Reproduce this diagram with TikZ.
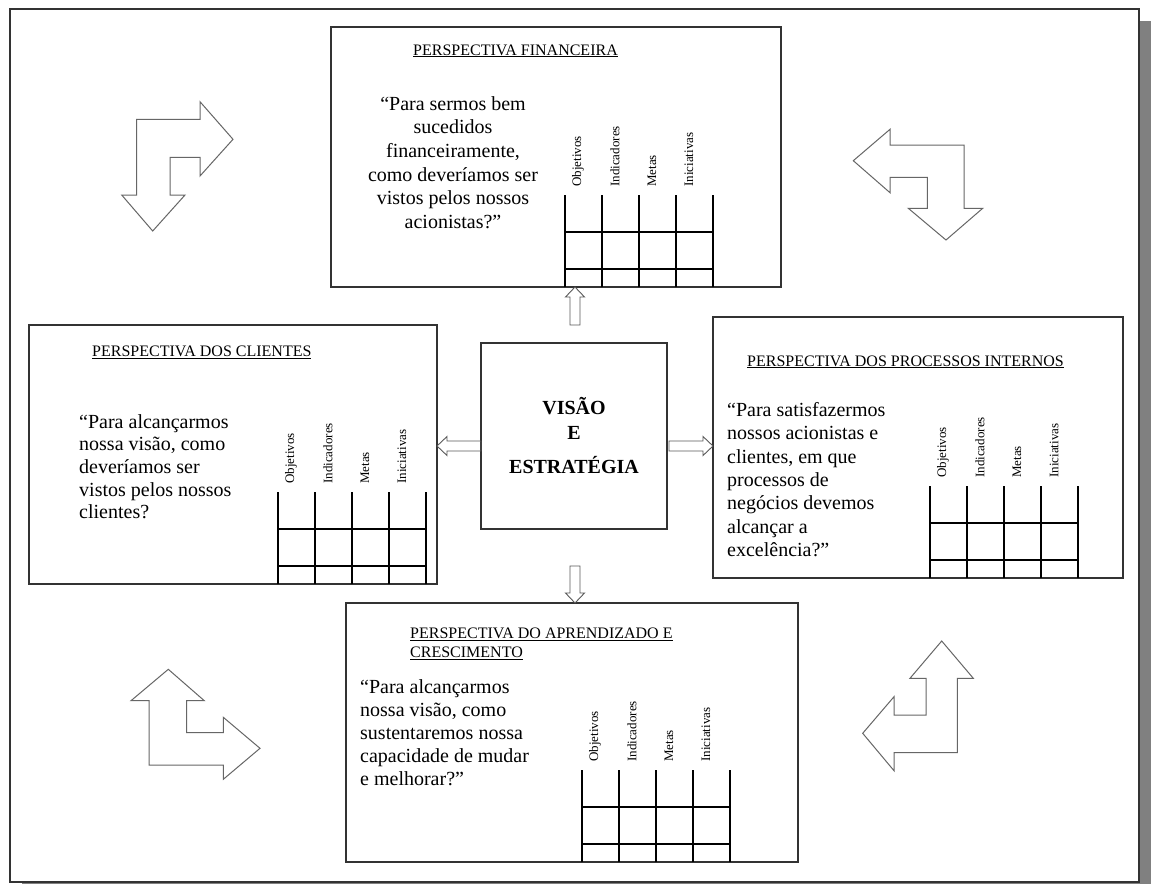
\documentclass[tikz,border=0pt]{standalone}
\usepackage{fontspec}
\setmainfont{Liberation Serif}
\usetikzlibrary{calc}

% table of objectives below each perspective: #1 box name, #2 offset of first column line
\newcommand{\grade}[2]{%
  \foreach \i in {0,...,4}
    \draw[gridline] ($(#1.south west)+(#2+37*\i,0)$) -- ++(0,-92);
  \draw[gridline] ($(#1.south west)+(#2,-55)$) -- ++(148,0);
  \draw[gridline] ($(#1.south west)+(#2,-18)$) -- ++(148,0);
  \foreach \t [count=\i from 0] in {Objetivos,Indicadores,Metas,Iniciativas}
    \node[colhead] (#1-h\i) at ($(#1.south west)+(#2+37*\i+13,-100)$) {\t};
}

\begin{document}
\begin{tikzpicture}[x=1pt,y=-1pt,
  frame/.style={draw=black!80, line width=1.5pt},
  pbox/.style={draw=black!80, line width=1.4pt, anchor=north west,
    inner sep=0pt, outer sep=0pt},
  gridline/.style={draw=black, line width=1.3pt},
  ptitle/.style={anchor=base west, inner sep=0pt,
    font=\fontsize{16}{19}\selectfont},
  pquote/.style={anchor=north west, inner sep=0pt, align=left},
  colhead/.style={rotate=90, anchor=west, inner sep=0pt,
    font=\fontsize{13}{13}\selectfont},
  bent/.style={draw=black!60, line width=1pt, fill=white, line join=miter},
  blockarrow/.style={draw=black!65, line width=0.9pt, line join=miter,
    to path={
      ($(\tikztotarget)!10pt!(\tikztostart)$) coordinate (bah)
      ($(\tikztostart)!5pt!90:(\tikztotarget)$)
      -- ($(bah)!5pt!-90:(\tikztostart)$)
      -- ($(bah)!9.5pt!-90:(\tikztostart)$)
      -- (\tikztotarget)
      -- ($(bah)!9.5pt!90:(\tikztostart)$)
      -- ($(bah)!5pt!90:(\tikztostart)$)
      -- ($(\tikztostart)!5pt!-90:(\tikztotarget)$)
      -- cycle}}
]
\useasboundingbox (0,0) rectangle (1151,884);

% page with drop shadow
\fill[black!50] (22,21) rectangle (1151,884);
\fill[white] (10,9) rectangle (1139,882);
\draw[frame] (10,9) rectangle (1139,882);

% the five boxes
\node[pbox, minimum width=450pt, minimum height=260pt] (fin) at (331,27) {};
\node[pbox, minimum width=408pt, minimum height=259pt] (cli) at (29,325) {};
\node[pbox, minimum width=410pt, minimum height=261pt] (pro) at (713,317) {};
\node[pbox, minimum width=452pt, minimum height=259pt] (apr) at (346,603) {};
\node[pbox, minimum width=186pt, minimum height=186pt, align=center,
      font=\fontsize{20}{24}\selectfont\bfseries] (cen) at (481,343)
      {VIS\~AO\\E\\[11pt]ESTRATÉGIA};

% titles
\node[ptitle] (fin-t) at ($(fin.north west)+(82,28)$) {\underline{PERSPECTIVA FINANCEIRA}};
\node[ptitle] (cli-t) at ($(cli.north west)+(63,31.5)$) {\underline{PERSPECTIVA DOS CLIENTES}};
\node[ptitle] (pro-t) at ($(pro.north west)+(34,49)$) {\underline{PERSPECTIVA DOS PROCESSOS INTERNOS}};
\node[ptitle, anchor=north west, align=left] (apr-t) at ($(apr.north west)+(64,24.4)$)
  {\underline{PERSPECTIVA DO APRENDIZADO E}\\\underline{CRESCIMENTO}};

% questions
\node[pquote, anchor=north, align=center, font=\fontsize{20}{23.6}\selectfont]
  (fin-q) at ($(fin.north west)+(122,69.3)$)
  {“Para sermos bem\\sucedidos\\financeiramente,\\como deveríamos ser\\vistos pelos nossos\\acionistas?”};
\node[pquote, font=\fontsize{20}{22.7}\selectfont]
  (cli-q) at ($(cli.north west)+(50,89)$)
  {“Para alcançarmos\\nossa visão, como\\deveríamos ser\\vistos pelos nossos\\clientes?};
\node[pquote, font=\fontsize{20}{23.3}\selectfont]
  (pro-q) at ($(pro.north west)+(14,85.3)$)
  {“Para satisfazermos\\nossos acionistas e\\clientes, em que\\processos de\\negócios devemos\\alcançar a\\excelência?”};
\node[pquote, font=\fontsize{20}{23}\selectfont]
  (apr-q) at ($(apr.north west)+(14,76.3)$)
  {“Para alcançarmos\\nossa visão, como\\sustentaremos nossa\\capacidade de mudar\\e melhorar?”};

% tables
\grade{fin}{234}
\grade{cli}{249}
\grade{pro}{217}
\grade{apr}{236}

% block arrows from the centre to each perspective
\coordinate (uS) at ($(cen.north)+(1,-18)$);
\coordinate (uT) at (uS |- fin.south);
\coordinate (dS) at ($(cen.south)+(1,37)$);
\coordinate (dT) at (dS |- apr.north);
\coordinate (lS) at ($(cen.west)+(0,10)$);
\coordinate (lT) at (lS -| cli.east);
\coordinate (rS) at ($(cen.east)+(2,10)$);
\coordinate (rT) at (rS -| pro.west);
\draw[blockarrow] (uS) to (uT);
\draw[blockarrow] (dS) to (dT);
\draw[blockarrow] (lS) to (lT);
\draw[blockarrow] (rS) to (rT);

% bent double arrows in the corners
\draw[bent] (136.7,119.3) -- (200,119.3) -- (200,101.7) -- (233,139.3) -- (200,176)
  -- (200,157.3) -- (170,157.3) -- (170,195) -- (185,195) -- (152.7,231)
  -- (121.7,195) -- (136.7,195) -- cycle;
\draw[bent] (964,145) -- (890,145) -- (890,129.3) -- (853.3,160.7) -- (890,192.7)
  -- (890,177.3) -- (927.3,177.3) -- (927.3,208.3) -- (908.3,208.3) -- (946,240)
  -- (982.7,208.3) -- (964,208.3) -- cycle;
\draw[bent] (168.3,669.3) -- (204.3,700.7) -- (186.7,700.7) -- (186.7,732.7)
  -- (223.3,732.7) -- (223.3,717.3) -- (260,748.3) -- (223.3,779.3) -- (223.3,765)
  -- (149,765) -- (149,700.7) -- (131,700.7) -- cycle;
\draw[bent] (941.7,641) -- (973.3,678.3) -- (957.3,678.3) -- (957.3,752.7)
  -- (894,752.7) -- (894,770.7) -- (862.7,733.3) -- (894,696.7) -- (894,715)
  -- (926,715) -- (926,678.3) -- (910,678.3) -- cycle;
\end{tikzpicture}
\end{document}
